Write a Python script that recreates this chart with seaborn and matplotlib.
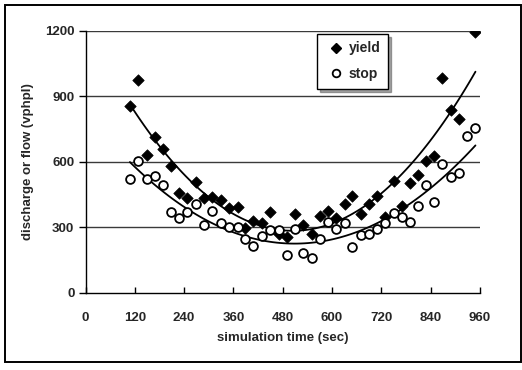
import numpy as np
import pandas as pd
import matplotlib
matplotlib.use("Agg")
import matplotlib.pyplot as plt
import matplotlib.patches as mpatches
from matplotlib.lines import Line2D
import seaborn as sns

yield_time = [108, 128, 149, 169, 188, 209, 227, 248, 268, 289, 309, 330, 349, 370,
              389, 408, 429, 449, 470, 490, 511, 529, 550, 570, 590, 610, 631, 649,
              670, 690, 710, 730, 750, 771, 789, 809, 829, 848, 868, 889, 909, 949]
yield_flow = [857, 974, 632, 713, 658, 582, 455, 435, 507, 435, 440, 425, 387, 394,
              298, 328, 318, 370, 267, 254, 362, 311, 270, 352, 372, 343, 405, 443,
              362, 405, 443, 346, 511, 397, 504, 540, 604, 626, 983, 838, 795, 1193]

stop_time = [108, 128, 149, 169, 188, 209, 227, 248, 268, 289, 309, 330, 349, 370,
             389, 408, 429, 449, 470, 490, 511, 529, 550, 570, 590, 610, 631, 649,
             670, 690, 710, 730, 750, 771, 789, 809, 829, 848, 868, 889, 909, 929, 949]
stop_flow = [521, 605, 521, 535, 492, 371, 341, 371, 406, 309, 372, 321, 301, 300,
             245, 216, 258, 287, 287, 173, 292, 180, 157, 246, 322, 290, 321, 211,
             264, 267, 290, 321, 367, 345, 325, 397, 492, 417, 589, 530, 550, 718, 755]

x_ticks = [0, 120, 240, 360, 480, 600, 720, 840, 960]
y_ticks = [0, 300, 600, 900, 1200]

df_yield = pd.DataFrame({"time": yield_time, "flow": yield_flow})
df_stop = pd.DataFrame({"time": stop_time, "flow": stop_flow})

sns.set_theme(style="white")
plt.rcParams["font.family"] = ["Liberation Sans", "DejaVu Sans"]
plt.rcParams["font.weight"] = "bold"

fig = plt.figure(figsize=(5.22, 3.70), dpi=100)
ax = fig.add_axes([0.1638, 0.2089, 0.7557, 0.7081])

for yv in y_ticks[1:]:
    ax.axhline(yv, color="#3a3a3a", lw=1.0, zorder=0)

sns.regplot(data=df_yield, x="time", y="flow", order=2, ci=None, scatter=False,
            line_kws=dict(color="black", lw=1.3), ax=ax, truncate=True)
sns.regplot(data=df_stop, x="time", y="flow", order=2, ci=None, scatter=False,
            line_kws=dict(color="black", lw=1.3), ax=ax, truncate=True)

sns.scatterplot(data=df_yield, x="time", y="flow", marker="D", s=34, color="black",
                edgecolor="black", linewidth=0.5, ax=ax, zorder=3)
sns.scatterplot(data=df_stop, x="time", y="flow", marker="o", s=40, facecolor="white",
                edgecolor="black", linewidth=1.3, ax=ax, zorder=3)

ax.set_xlim(0, 960)
ax.set_ylim(0, 1200)
ax.set_xticks(x_ticks)
ax.set_yticks(y_ticks)
ax.set_xticklabels([str(t) for t in x_ticks], fontsize=9.5, fontweight="bold")
ax.set_yticklabels([str(t) for t in y_ticks], fontsize=9.5, fontweight="bold")
ax.tick_params(axis="x", direction="in", length=4, width=1, pad=14, color="black")
ax.tick_params(axis="y", direction="out", length=5, width=1, pad=3, color="black", left=True)
ax.tick_params(axis="x", bottom=True)

for s in ["top", "right"]:
    ax.spines[s].set_visible(False)
for s in ["left", "bottom"]:
    ax.spines[s].set_color("black")
    ax.spines[s].set_linewidth(1.0)

ax.set_xlabel("simulation time (sec)", fontsize=9.5, fontweight="bold", labelpad=6)
ax.set_ylabel("discharge or flow (vphpl)", fontsize=9.5, fontweight="bold", labelpad=8)

handles = [
    Line2D([], [], marker="D", color="black", linestyle="none", markersize=5.5),
    Line2D([], [], marker="o", markerfacecolor="white", markeredgecolor="black",
           markeredgewidth=1.3, linestyle="none", markersize=5.5),
]
leg = ax.legend(handles, ["yield", "stop"], loc="upper left",
                bbox_to_anchor=(0.57, 1.015), frameon=True, fancybox=False,
                shadow=True, edgecolor="black", framealpha=1,
                prop=dict(size=10, weight="bold"), labelspacing=0.85,
                handletextpad=0.1, handlelength=1.6, borderpad=0.55)
leg.get_frame().set_linewidth(1.0)

fig.patches.append(mpatches.Rectangle((5 / 522, 1 - 362 / 370), 1 - 5 / 522 - 0.002,
                                      (362 - 5) / 370, transform=fig.transFigure,
                                      fill=False, edgecolor="black", lw=1.4))

fig.savefig("out.png", dpi=100)
